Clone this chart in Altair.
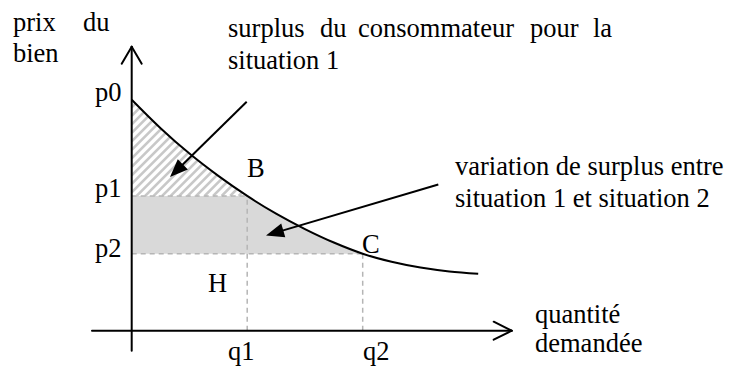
import math
import altair as alt
import pandas as pd

# ---- economic values (axis units) ----
q_names = ["q1", "q2"]
q_values = [1.0, 2.0]
p_names = ["p0", "p1", "p2"]
p_values = [3.0, 1.75, 1.0]
curve_q = [0.0, 0.25, 0.5, 0.75, 1.0, 1.25, 1.5, 1.75, 2.0, 2.25, 2.5, 2.75, 3.0]
curve_p = [3.0, 2.63, 2.30, 2.01, 1.75, 1.52, 1.32, 1.145, 1.0, 0.895, 0.82, 0.77, 0.74]

q1, q2 = q_values
p0, p1, p2 = p_values

# ---- layout (plot area = whole view, no axes) ----
W, H = 716, 358
PXQ, PXP = 115.5, 77.0           # pixels per axis unit
OX, OY = 131.7, 330.7            # page position of the origin
x_dom = [-(OX - 8) / PXQ, (W - (OX - 8)) / PXQ]
y_dom = [-(H - (OY - 8)) / PXP, (OY - 8) / PXP]
XS = alt.Scale(domain=x_dom, nice=False, zero=False)
YS = alt.Scale(domain=y_dom, nice=False, zero=False)


def at(X, Y):
    """page pixel -> axis units (annotation placement)"""
    return (X - OX) / PXQ, (OY - Y) / PXP


def X_(f="x"):
    return alt.X(f"{f}:Q", scale=XS, axis=None)


def Y_(f="y"):
    return alt.Y(f"{f}:Q", scale=YS, axis=None)


FONT = "Liberation Serif"
FS = 26.5

# ---- gray band between p2 and p1 ----
band = pd.DataFrame({"x": [0.0], "x2": [q2], "y": [p2], "y2": [p1]})
gray = alt.Chart(band).mark_rect(color="#d9d9d9").encode(
    x=X_(), x2="x2:Q", y=Y_(), y2="y2:Q")

# ---- hatching in the box [0,q1]x[p1,p0], masked above the curve ----
step = 8.5
xmax, ymin, ymax = q1 * PXQ, p1 * PXP, p0 * PXP
rows = []
c = ymin - xmax
while c < ymax:
    lo, hi = max(0.0, ymin - c), min(xmax, ymax - c)
    if hi > lo:
        rows.append({"x": lo / PXQ, "y": (lo + c) / PXP,
                     "x2": hi / PXQ, "y2": (hi + c) / PXP})
    c += step
hatch = alt.Chart(pd.DataFrame(rows)).mark_rule(
    color="#c8c8c8", strokeWidth=2.6).encode(
    x=X_(), y=Y_(), x2="x2:Q", y2="y2:Q")

curve_df = pd.DataFrame({"x": curve_q, "y": curve_p, "top": [p0 + 0.08] * len(curve_q)})
mask = alt.Chart(curve_df).mark_area(color="white", interpolate="monotone", opacity=1).encode(
    x=X_(), y=Y_(), y2="top:Q")

# ---- dashed guides ----
guides = pd.DataFrame({
    "x": [0.0, q1, 0.0, q2], "y": [p1, 0.0, p2, 0.0],
    "x2": [q1, q1, q2, q2], "y2": [p1, p1, p2, p2]})
dashed = alt.Chart(guides).mark_rule(
    color="#b5b5b5", strokeWidth=1.5, strokeDash=[5, 4]).encode(
    x=X_(), y=Y_(), x2="x2:Q", y2="y2:Q")

# ---- demand curve ----
curve = alt.Chart(curve_df).mark_line(
    color="black", strokeWidth=2, interpolate="monotone").encode(x=X_(), y=Y_())

# ---- axes with open arrowheads ----
yb, yt = at(OX, 350.7)[1], at(OX, 46.7)[1]
xl, xr = at(92, OY)[0], at(511.7, OY)[0]
ax_rows = [
    {"x": 0.0, "y": yb, "x2": 0.0, "y2": yt},
    {"x": xl, "y": 0.0, "x2": xr, "y2": 0.0},
    {"x": 0.0, "y": yt, "x2": -10 / PXQ, "y2": yt - 17 / PXP},
    {"x": 0.0, "y": yt, "x2": 10 / PXQ, "y2": yt - 17 / PXP},
    {"x": xr, "y": 0.0, "x2": xr - 18 / PXQ, "y2": 9 / PXP},
    {"x": xr, "y": 0.0, "x2": xr - 18 / PXQ, "y2": -9 / PXP},
]
axes = alt.Chart(pd.DataFrame(ax_rows)).mark_rule(
    color="black", strokeWidth=2, strokeCap="round").encode(
    x=X_(), y=Y_(), x2="x2:Q", y2="y2:Q")

# ---- annotation arrows ----
arrows_px = [((246.7, 101.7), (170.0, 177.0)), ((438.3, 184.5), (266.0, 235.5))]
ar_rows, head_rows = [], []
for (tx, ty), (hx, hy) in arrows_px:
    dx, dy = hx - tx, hy - ty
    L = math.hypot(dx, dy)
    ex, ey = hx - dx / L * 10, hy - dy / L * 10
    a, b, e = at(tx, ty), at(hx, hy), at(ex, ey)
    ar_rows.append({"x": a[0], "y": a[1], "x2": e[0], "y2": e[1]})
    ang = math.degrees(math.atan2(dx, -dy)) % 360
    head_rows.append({"x": b[0], "y": b[1], "ang": ang})
shafts = alt.Chart(pd.DataFrame(ar_rows)).mark_rule(
    color="black", strokeWidth=2).encode(x=X_(), y=Y_(), x2="x2:Q", y2="y2:Q")
heads = alt.Chart(pd.DataFrame(head_rows)).mark_point(
    shape="M0,0L-0.8,2L0.8,2Z", size=324, filled=True, color="black",
    opacity=1, strokeWidth=0).encode(
    x=X_(), y=Y_(), angle=alt.Angle("ang:Q", scale=None))

# ---- texts ----
labels_px = [
    ("prix", 13, 31), ("du", 83, 31), ("bien", 13, 62),
    ("surplus", 228, 37), ("du", 320, 37), ("consommateur", 358, 37),
    ("pour", 530, 37), ("la", 593, 37), ("situation 1", 228, 69),
    (p_names[0], 95, 101), (p_names[1], 95, 197), (p_names[2], 95, 257),
    ("B", 247, 177), ("C", 362, 253), ("H", 208, 292),
    (q_names[0], 228, 360), (q_names[1], 363, 360),
    ("variation de surplus entre", 455, 175),
    ("situation 1 et situation 2", 455, 207),
    ("quantité", 535, 323), ("demandée", 535, 352),
]
lab = pd.DataFrame([{"t": t, "x": at(X, Y)[0], "y": at(X, Y)[1]} for t, X, Y in labels_px])
texts = alt.Chart(lab).mark_text(
    align="left", baseline="alphabetic", font=FONT, fontSize=FS, color="black").encode(
    x=X_(), y=Y_(), text="t:N")

chart = alt.layer(gray, hatch, mask, dashed, curve, axes, shafts, heads, texts).properties(
    width=W, height=H, padding=0, background="white",
    autosize=alt.AutoSizeParams(type="none"),
).configure_view(stroke=None)

chart.save("out.html", embed_options={"renderer": "svg", "actions": False})
